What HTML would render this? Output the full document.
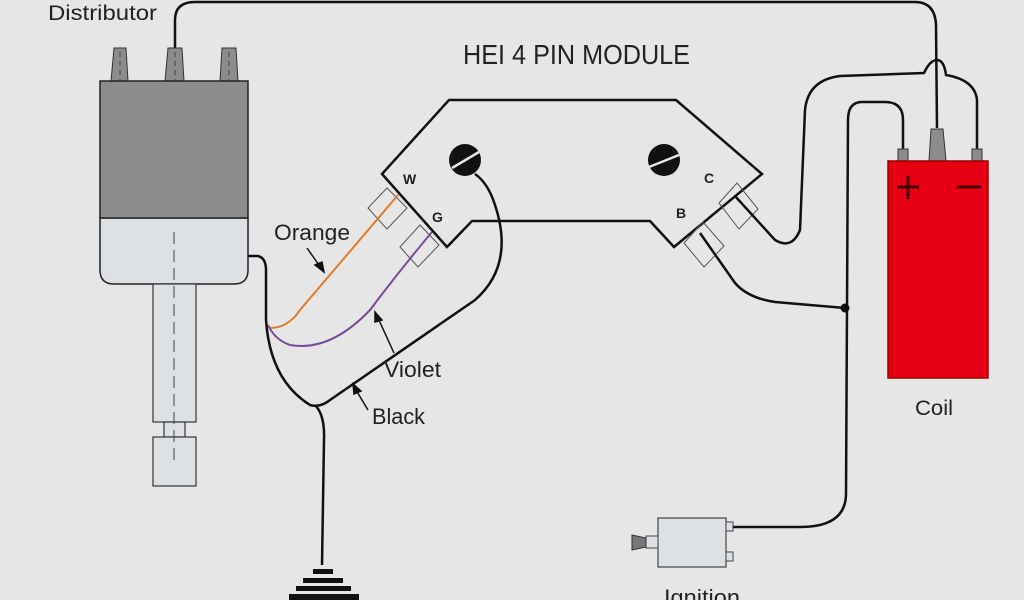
<!DOCTYPE html>
<html><head><meta charset="utf-8"><style>
html,body{margin:0;padding:0;background:#e6e6e6;}
svg{display:block;}
text{font-family:"Liberation Sans",sans-serif;fill:#222;}
</style></head><body>
<svg width="1024" height="600" viewBox="0 0 1024 600" xmlns="http://www.w3.org/2000/svg">
<rect width="1024" height="600" fill="#e6e6e6"/>
<path d="M175,48 L175,20 Q175,2 195,2 L915,2 Q935,2 936,25 L937,128" fill="none" stroke="#111" stroke-width="2.5"/>
<g fill="#8a8c8e" stroke="#333" stroke-width="1">
<path d="M111,81 L114,48 L126,48 L128,81 Z"/>
<path d="M165,81 L168,48 L182,48 L184,81 Z"/>
<path d="M220,81 L222,48 L236,48 L238,81 Z"/>
</g>
<g stroke="#444" stroke-width="1" stroke-dasharray="5,4"><line x1="120" y1="52" x2="120" y2="80"/><line x1="175" y1="52" x2="175" y2="80"/><line x1="229" y1="52" x2="229" y2="80"/></g>
<path d="M100,218 L248,218 L248,270 Q248,284 234,284 L114,284 Q100,284 100,270 Z" fill="#dde1e5" stroke="#222" stroke-width="1.5"/>
<rect x="100" y="81" width="148" height="137" fill="#8a8c8e" stroke="#222" stroke-width="1.5"/>
<rect x="153" y="284" width="43" height="138" fill="#dde1e5" stroke="#333" stroke-width="1.2"/>
<rect x="164" y="422" width="21" height="15" fill="#dde1e5" stroke="#333" stroke-width="1.2"/>
<rect x="153" y="437" width="43" height="49" fill="#dde1e5" stroke="#333" stroke-width="1.2"/>
<line x1="174" y1="232" x2="174" y2="465" stroke="#444" stroke-width="1" stroke-dasharray="12,6"/>
<path d="M382,174 L449,100 L676,100 L762,174 L674,247 L650,221 L472,221 L447,247 Z" fill="#e6e6e6" stroke="#111" stroke-width="2.5"/>
<circle cx="465" cy="160" r="16" fill="#111"/><line x1="452" y1="168" x2="479" y2="152" stroke="#e6e6e6" stroke-width="2.5"/>
<circle cx="664" cy="160" r="16" fill="#111"/><line x1="649" y1="167" x2="679" y2="155" stroke="#e6e6e6" stroke-width="2.5"/>
<g fill="none" stroke="#555" stroke-width="1">
<polygon points="387,188 368,208 387,229 407,208"/>
<polygon points="420,225 400,247 418,267 439,245"/>
<polygon points="737,183 719,203 739,229 758,209"/>
<polygon points="703,222 684,243 704,267 724,246"/>
</g>
<path d="M398,195 L300,310 Q288,328 270,328" fill="none" stroke="#e07b2a" stroke-width="2"/>
<path d="M432,232 Q400,270 370,310 Q330,352 290,345 Q275,340 268,325" fill="none" stroke="#7d4a9a" stroke-width="2"/>
<path d="M248,256 L258,256 Q266,258 266,270 L266,320 Q270,380 310,405 Q320,408 330,400 L475,300 Q515,265 495,205 Q488,183 475,174" fill="none" stroke="#111" stroke-width="2.5"/>
<path d="M315,405 Q325,415 324,440 L322,565" fill="none" stroke="#111" stroke-width="2.5"/>
<g fill="#111"><rect x="313" y="569" width="20" height="5"/><rect x="303" y="578" width="40" height="5"/><rect x="296" y="586" width="55" height="5"/><rect x="289" y="594" width="70" height="6"/></g>
<path d="M700,233 L735,283 Q748,298 775,302 L845,308" fill="none" stroke="#111" stroke-width="2.5"/>
<path d="M735,196 L775,240 Q792,250 800,230 L805,110 Q808,80 840,76 L924,73 Q930,60 937,60 Q944,60 946,75 Q975,80 977,100 L977,150" fill="none" stroke="#111" stroke-width="2.5"/>
<path d="M903,150 L903,120 Q903,102 885,102 L862,102 Q848,102 848,120 L846,495 Q845,527 800,527 L733,527" fill="none" stroke="#111" stroke-width="2.5"/>
<circle cx="845" cy="308" r="4.5" fill="#111"/>
<rect x="898" y="149" width="10" height="13" fill="#8a8c8e" stroke="#333"/>
<rect x="972" y="149" width="10" height="13" fill="#8a8c8e" stroke="#333"/>
<path d="M929,161 L931,129 L943,129 L946,161 Z" fill="#8a8c8e" stroke="#333"/>
<rect x="888" y="161" width="100" height="217" fill="#e60012" stroke="#900" stroke-width="1.5"/>
<path d="M897,187 L919,187 M908,176 L908,199" stroke="#400" stroke-width="3"/>
<path d="M957,187 L981,187" stroke="#400" stroke-width="3"/>
<rect x="658" y="518" width="68" height="49" fill="#dde1e5" stroke="#444" stroke-width="1.2"/>
<rect x="646" y="536" width="12" height="12" fill="#dde1e5" stroke="#444"/>
<path d="M632,535 L646,538 L646,547 L632,550 Z" fill="#777" stroke="#333"/>
<rect x="726" y="522" width="7" height="9" fill="#dde1e5" stroke="#444"/>
<rect x="726" y="552" width="7" height="9" fill="#dde1e5" stroke="#444"/>
<text x="48" y="20" font-size="21" textLength="109" lengthAdjust="spacingAndGlyphs">Distributor</text>
<text x="463" y="64" font-size="28" textLength="227" lengthAdjust="spacingAndGlyphs">HEI 4 PIN MODULE</text>
<text x="403" y="184" font-size="14" font-weight="bold">W</text>
<text x="432" y="222" font-size="14" font-weight="bold">G</text>
<text x="704" y="183" font-size="14" font-weight="bold">C</text>
<text x="676" y="218" font-size="14" font-weight="bold">B</text>
<text x="274" y="240" font-size="22" textLength="76" lengthAdjust="spacingAndGlyphs">Orange</text>
<text x="384" y="377" font-size="22" textLength="57" lengthAdjust="spacingAndGlyphs">Violet</text>
<text x="372" y="424" font-size="22" textLength="53" lengthAdjust="spacingAndGlyphs">Black</text>
<text x="915" y="415" font-size="21" textLength="38" lengthAdjust="spacingAndGlyphs">Coil</text>
<text x="664" y="605" font-size="22" textLength="76" lengthAdjust="spacingAndGlyphs">Ignition</text>
<g stroke="#111" stroke-width="1.5" fill="#111">
<line x1="307" y1="248" x2="321" y2="268"/><path d="M324,272 L315,265 L322,262 Z"/>
<line x1="394" y1="353" x2="378" y2="318"/><path d="M375,312 L382,320 L375,322 Z"/>
<line x1="368" y1="410" x2="356" y2="390"/><path d="M353,384 L361,391 L354,394 Z"/>
</g>
</svg>
</body></html>
